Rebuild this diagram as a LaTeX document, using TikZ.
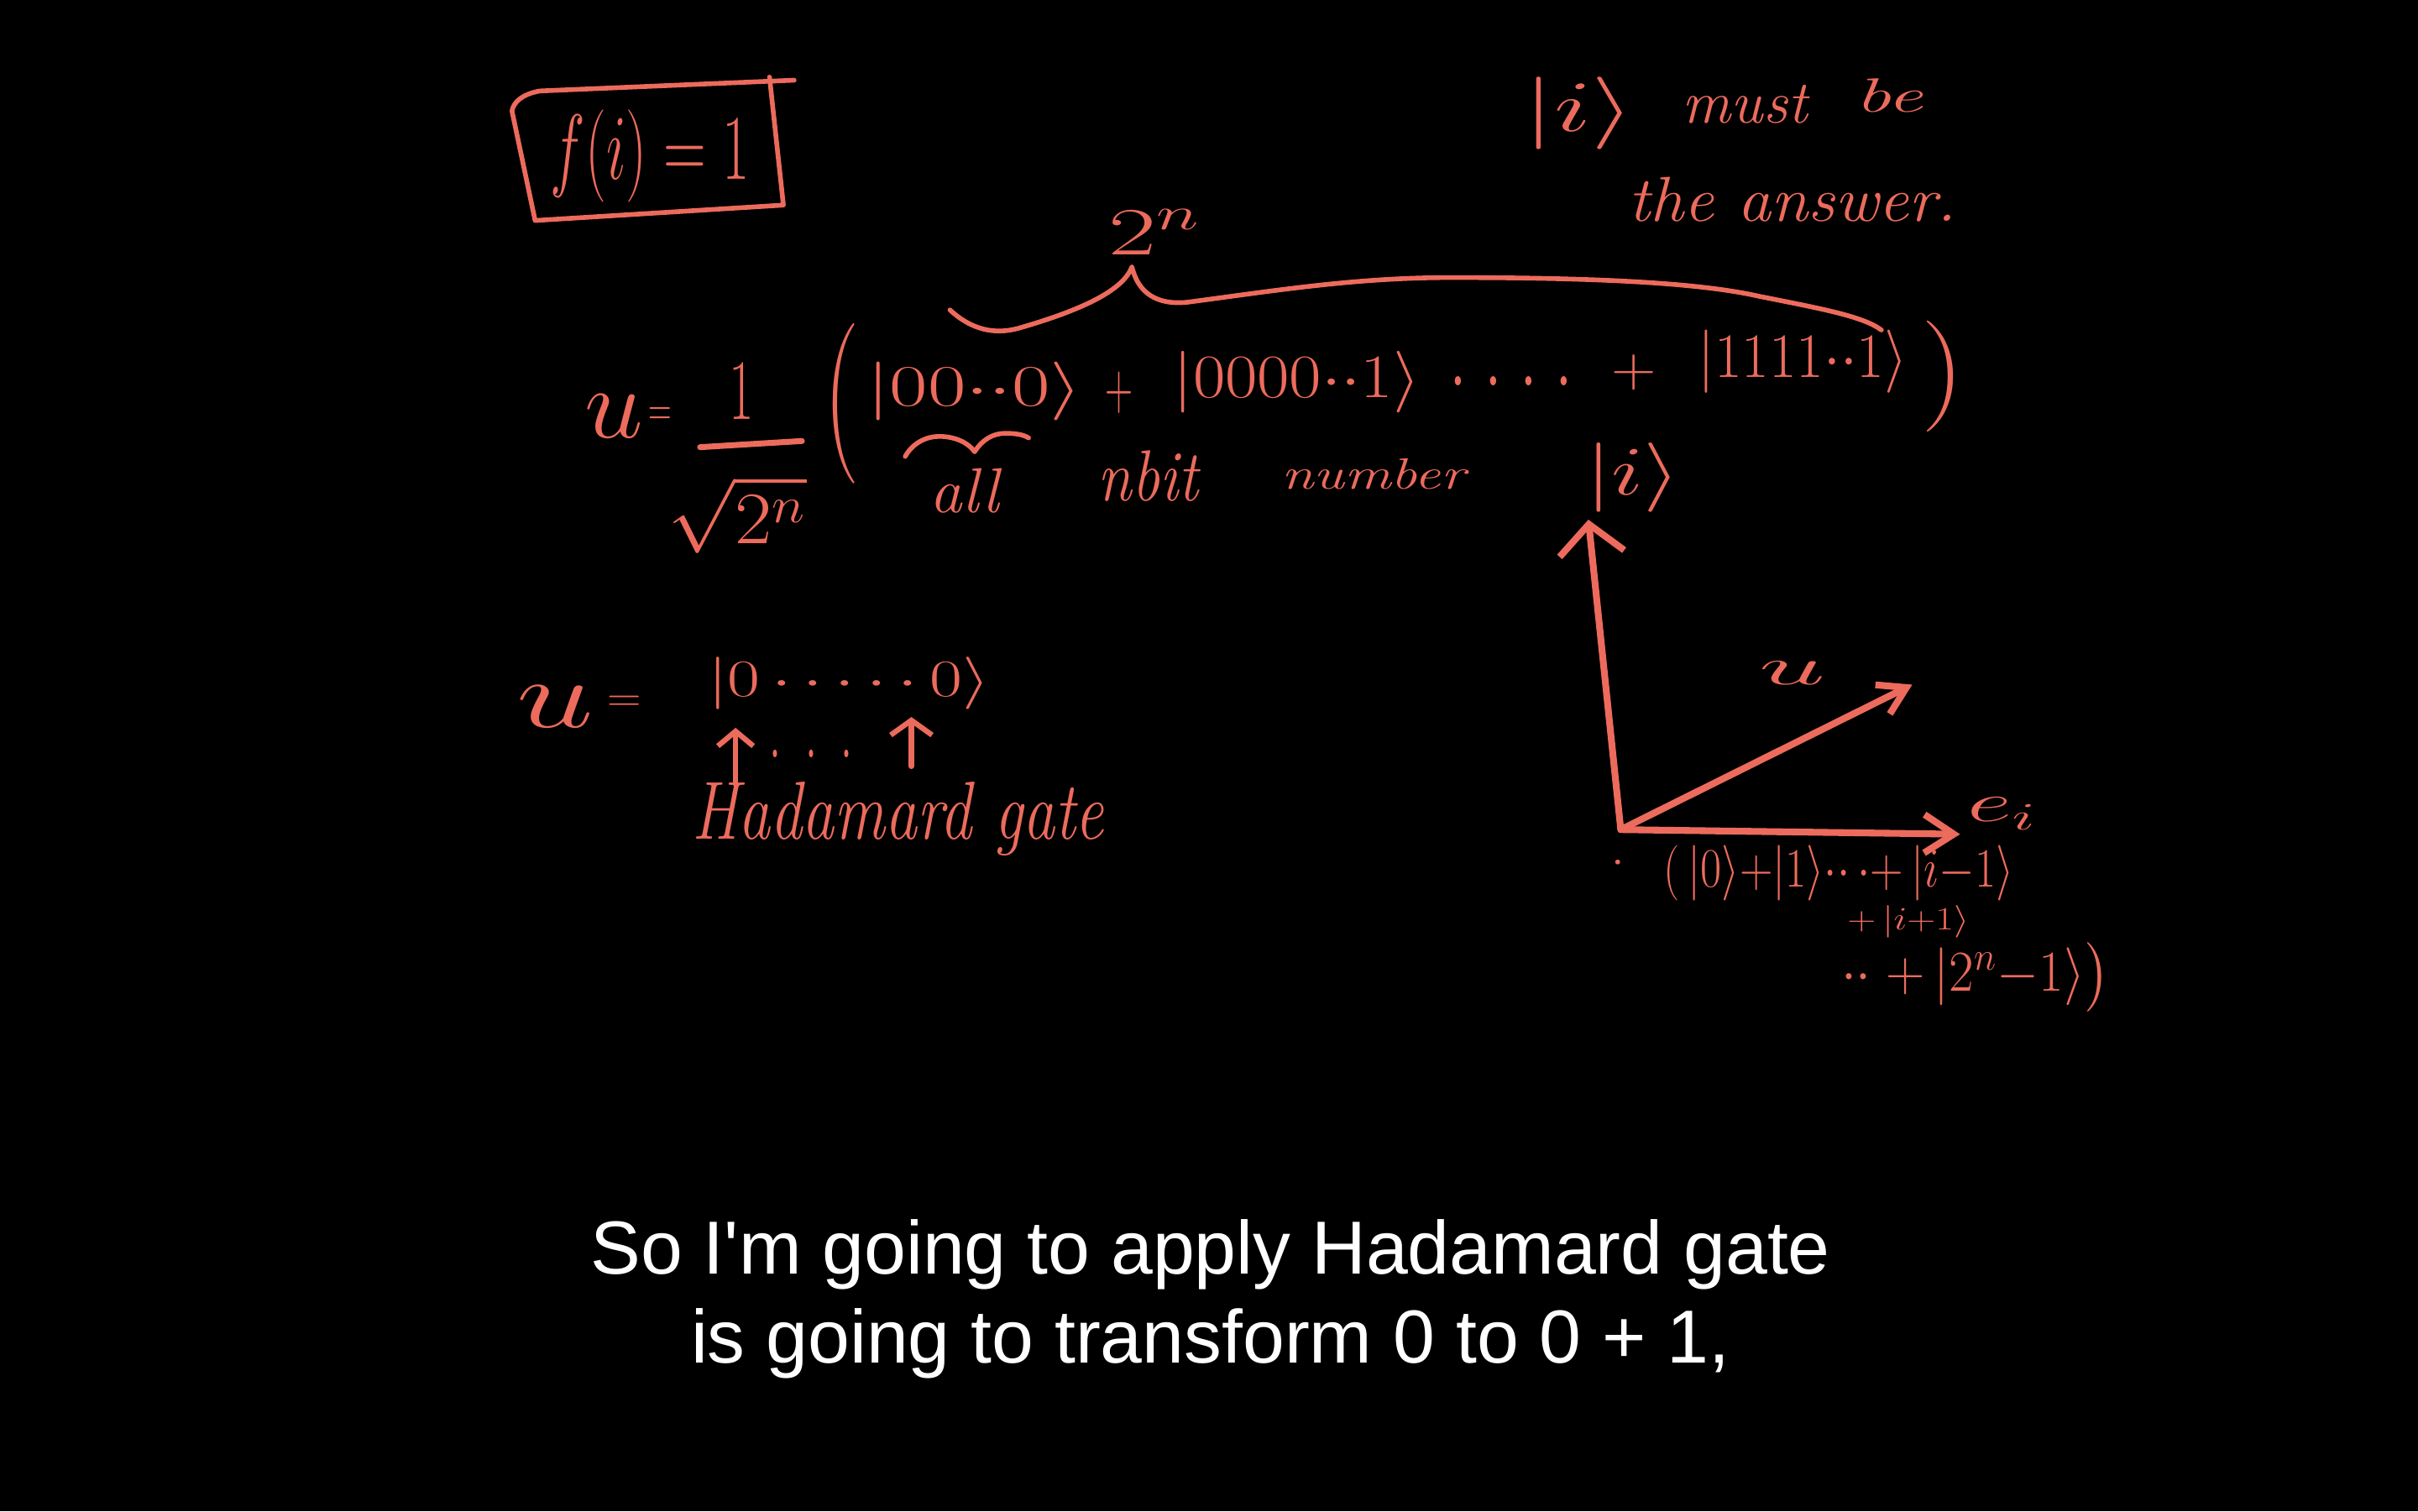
\documentclass[tikz,border=0pt]{standalone}
\usepackage{fontspec}
\usepackage{amsmath}
\usepackage{graphicx}
\usetikzlibrary{arrows.meta}
\newfontfamily\subfont{Liberation Sans}
\definecolor{ink}{RGB}{236,107,92}
\newdimen\rp \rp=0.5226pt
\newcommand\fitto[3]{\resizebox*{#1\rp}{#2\rp}{#3}}
\begin{document}
\begin{tikzpicture}[x=0.0183673cm, y=-0.0183673cm,
  hw/.style={text=ink, inner sep=0pt, outer sep=0pt, font=\fontsize{20}{24}\selectfont},
  pen/.style={draw=ink, line width=1.6pt, line cap=round, line join=round},
  axis/.style={draw=ink, line width=2.3pt, line cap=round, line join=round},
  subt/.style={text=white, inner sep=0pt, anchor=base, font=\subfont\fontsize{25.5}{30}\selectfont}]
\fill[black] (0,0) rectangle (1568,980);
\useasboundingbox (0,0) rectangle (1568,980);

% boxed f(i)=1
\node[hw] (fi) at (421.5,101) {\fitto{129}{60}{$f(i)=1$}};
\draw[pen] (515,52) -- (350,59) .. controls (339,61) and (333,66) .. (332,72) -- (347,143) -- (508,133) -- (499,50);

% |i> must be the answer.
\node[hw] (ket0) at (1024,73.5) {\fitto{72}{47}{$|i\rangle$}};
\node[hw] (must) at (1131.5,67.5) {\fitto{81}{25}{\itshape must}};
\node[hw] (be) at (1225,62) {\fitto{44}{22}{\itshape be}};
\node[hw] (ans) at (1162.5,129.5) {\fitto{213}{29}{\itshape the answer.}};

% 2^n and brace
\node[hw] (twon) at (749,150.5) {\fitto{60}{29}{$2^n$}};
\draw[pen] (616,201) .. controls (630,214) and (645,217) .. (660,213)
  .. controls (695,203) and (728,190) .. (734,173)
  .. controls (738,190) and (750,198) .. (770,196)
  .. controls (830,188) and (880,180) .. (941,180)
  .. controls (1030,180) and (1100,183) .. (1140,192)
  .. controls (1180,200) and (1208,205) .. (1220,214);

% u = 1/sqrt(2^n) ( ... )
\node[hw] (u1) at (398,270) {\fitto{38}{28}{$u$}};
\node[hw] (eq1) at (428,270.5) {\fitto{15}{12}{$=$}};
\node[hw] (num) at (481,254) {\fitto{16}{36}{$1$}};
\coordinate (barl) at (454,290);
\coordinate (barr) at (520,286);
\draw[pen, line width=2pt] (barl) -- (barr);
\node[hw] (den) at (478,334) {\fitto{90}{50}{$\sqrt{2^n}$}};
\node[hw] (lpar) at (546,262) {\fitto{23}{104}{(}};
\node[hw] (k1) at (632,254) {\fitto{140}{38}{$|00{\cdot}{\cdot}0\rangle$}};
\node[hw] (p1) at (726,254.5) {\fitto{18}{27}{$+$}};
\node[hw] (k2) at (841,248) {\fitto{160}{40}{$|0000{\cdot}{\cdot}1\rangle$}};
\node[hw] (dots1) at (980,247) {\fitto{80}{6}{$.\;.\;.\;.$}};
\node[hw] (p2) at (1059.5,241.5) {\fitto{29}{23}{$+$}};
\node[hw] (k3) at (1169,234.5) {\fitto{136}{41}{$|1111{\cdot}{\cdot}1\rangle$}};
\node[hw] (rpar) at (1260,244) {\fitto{28}{72}{)}};

% small brace and "all nbit number |i>"
\draw[pen] (587,296) .. controls (592,287) and (601,283) .. (609,283)
  .. controls (619,283) and (628,287) .. (632,293)
  .. controls (637,285) and (644,281) .. (652,281)
  .. controls (659,281) and (664,282) .. (667,284);
\node[hw] (all) at (625.5,318.5) {\fitto{45}{29}{\itshape all}};
\node[hw] (nbit) at (744.5,308.5) {\fitto{65}{33}{\itshape nbit}};
\node[hw] (number) at (890.5,307.5) {\fitto{119}{20}{\itshape number}};
\node[hw] (keti) at (1059,309.5) {\fitto{62}{45}{$|i\rangle$}};

% axes
\coordinate (O) at (1051,538);
\coordinate (Y) at (1030,337);
\coordinate (D) at (1240,444);
\coordinate (X) at (1271,541);
\draw[axis, -{Straight Barb[length=10pt,width=22pt]}] (O) -- (Y);
\draw[axis, -{Straight Barb[length=9pt,width=11pt]}] (O) -- (D);
\draw[axis, -{Straight Barb[length=10pt,width=13pt]}] (O) -- (X);
\node[hw] (ulab) at (1162.5,436.5) {\fitto{43}{15}{$u$}};
\node[hw] (ei) at (1298.5,527.5) {\fitto{45}{21}{$e_i$}};
\fill[ink] (1049,559) circle (1.6);

\node[hw] (sum1) at (1192.5,566) {\fitto{227}{36}{$(\,|0\rangle{+}|1\rangle{\cdot}{\cdot}\,{\cdot}{+}\,|i{-}1\rangle$}};
\node[hw] (sum2) at (1237.5,597.5) {\fitto{79}{21}{${+}\,|i{+}1\rangle$}};
\node[hw] (sum3) at (1281,633.5) {\fitto{174}{45}{${\cdot}{\cdot}\;{+}\,|2^n{-}1\rangle\big)$}};

% u = |0.....0>, Hadamard gate
\node[hw] (u2) at (360,458.5) {\fitto{50}{27}{$u$}};
\node[hw] (eq2) at (405,456.5) {\fitto{22}{10}{$=$}};
\node[hw] (k4) at (550.5,443) {\fitto{183}{34}{$|0\,{\cdot}\,{\cdot}\,{\cdot}\,{\cdot}\,{\cdot}\,0\rangle$}};
\coordinate (a1s) at (477,507);
\coordinate (a1e) at (477,472);
\coordinate (a2s) at (591,497);
\coordinate (a2e) at (591,465);
\draw[pen, line width=1.8pt, -{Straight Barb[length=5pt,width=12pt]}] (a1s) -- (a1e);
\draw[pen, line width=1.8pt, -{Straight Barb[length=5pt,width=14pt]}] (a2s) -- (a2e);
\node[hw] (dots2) at (526,489) {\fitto{54}{5}{$.\;\;.\;\;.$}};
\node[hw] (had) at (582.5,531) {\fitto{267}{48}{\itshape Hadamard gate}};

% subtitle
\node[subt] (sub1) at (785,826) {So I'm going to apply Hadamard gate};
\node[subt] (sub2) at (785,884) {is going to transform 0 to 0 + 1,};
\end{tikzpicture}
\end{document}
